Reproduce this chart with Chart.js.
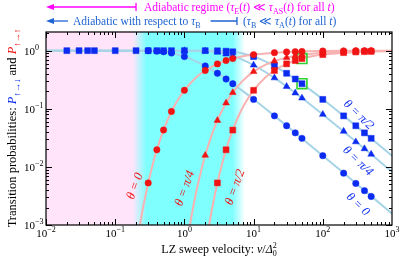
<!DOCTYPE html>
<html>
<head>
<meta charset="utf-8">
<script src="https://cdn.jsdelivr.net/npm/chart.js@4.4.1/dist/chart.umd.min.js"></script>
<style>
  html, body { margin: 0; padding: 0; background: #fff; }
</style>
</head>
<body>
<canvas id="c" width="407" height="266"></canvas>
<script>
// markers: v = sweep velocity, p = probability
const vBlueSq = [0.02, 0.03, 0.04, 0.05, 0.1, 0.2, 0.3, 0.4, 0.5, 0.65, 1, 2, 3, 4, 5, 10, 20, 30, 40, 50, 100, 200, 300, 400, 500];
const pBlueSq = [1, 1, 1, 1, 1, 1, 1, 1, 1, 1, 1, 1, 0.995, 0.98, 0.957, 0.79, 0.544, 0.408, 0.325, 0.27, 0.145, 0.0755, 0.051, 0.0385, 0.031];
const vBlueTri = [1, 2, 3, 4, 5, 10, 20, 30, 40, 50, 100, 200, 300, 400, 500];
const pBlueTri = [1, 0.984, 0.937, 0.874, 0.81, 0.564, 0.34, 0.242, 0.187, 0.153, 0.08, 0.041, 0.027, 0.0205, 0.0165];
const vBlueCirc = [0.3, 0.4, 0.5, 0.65, 1, 2, 3, 4, 5, 10, 20, 30, 40, 50, 100, 200, 300, 400, 500];
const pBlueCirc = [0.995, 0.98, 0.957, 0.91, 0.79, 0.544, 0.408, 0.325, 0.27, 0.145, 0.0755, 0.051, 0.0385, 0.031, 0.0156, 0.0078, 0.0052, 0.0039, 0.0031];
const vRedCirc = [0.3, 0.4, 0.5, 0.65, 1, 2, 3, 4, 5, 10, 20, 30, 40, 50, 100, 200, 300, 400, 500];
const pRedCirc = [0.0053, 0.0197, 0.043, 0.09, 0.208, 0.456, 0.592, 0.675, 0.73, 0.855, 0.924, 0.949, 0.962, 0.969, 0.984, 0.992, 0.995, 0.996, 0.997];
const vRedTri = [2, 3, 4, 5, 10, 20, 30, 40, 50, 100, 200, 300, 400, 500];
const pRedTri = [0.0158, 0.063, 0.126, 0.19, 0.436, 0.66, 0.758, 0.813, 0.847, 0.92, 0.959, 0.973, 0.979, 0.984];
const vRedSq = [3, 4, 5, 10, 20, 30, 40, 50, 100, 200, 300, 400, 500];
const pRedSq = [0.0053, 0.0197, 0.043, 0.208, 0.456, 0.592, 0.675, 0.73, 0.855, 0.924, 0.949, 0.962, 0.969];
const vGreen = [50, 50];
const pGreen = [0.73, 0.27];

// theory curves
const vCurveR0 = [0.22, 0.25, 0.3, 0.35, 0.4, 0.5, 0.6, 0.7, 0.85, 1, 1.5, 2, 3, 5, 7, 10, 20, 50, 100, 200, 500, 1000];
const pCurveR0 = [0.00079, 0.00187, 0.0053, 0.01125, 0.0197, 0.0432, 0.0729, 0.106, 0.1576, 0.208, 0.351, 0.456, 0.592, 0.73, 0.799, 0.855, 0.924, 0.969, 0.984, 0.992, 0.9969, 0.9984];
const vCurveR1 = [1.1, 1.2, 1.35, 1.5, 1.75, 2, 2.5, 3, 4, 5, 7, 10, 15, 20, 30, 50, 70, 100, 200, 500, 1000];
const pCurveR1 = [0.00053, 0.00099, 0.00214, 0.00395, 0.0087, 0.0158, 0.0362, 0.0629, 0.1256, 0.19, 0.3055, 0.436, 0.575, 0.66, 0.758, 0.847, 0.888, 0.92, 0.959, 0.9835, 0.9917];
const vCurveR2 = [2.2, 2.5, 3, 3.5, 4, 5, 6, 7, 8.5, 10, 15, 20, 30, 50, 70, 100, 200, 500, 1000];
const pCurveR2 = [0.00079, 0.00187, 0.0053, 0.01125, 0.0197, 0.0432, 0.0729, 0.106, 0.1576, 0.208, 0.351, 0.456, 0.592, 0.73, 0.799, 0.855, 0.924, 0.969, 0.9844];
const vCurveB0 = [0.01, 0.1, 0.2, 0.3, 0.4, 0.5, 0.7, 1, 1.5, 2, 3, 5, 7, 10, 20, 50, 100, 200, 500, 1000];
const pCurveB0 = [1, 1, 0.9996, 0.9947, 0.9803, 0.9568, 0.894, 0.792, 0.649, 0.544, 0.408, 0.27, 0.201, 0.1454, 0.0755, 0.0309, 0.01559, 0.00782, 0.00314, 0.00157];
const vCurveB1 = [0.01, 1, 1.5, 2, 3, 5, 7, 10, 15, 20, 30, 50, 100, 200, 500, 1000];
const pCurveB1 = [1, 0.99975, 0.996, 0.9842, 0.937, 0.81, 0.6945, 0.564, 0.425, 0.34, 0.242, 0.153, 0.0797, 0.0406, 0.01646, 0.00826];
const vCurveB2 = [0.01, 2, 3, 4, 5, 7, 10, 15, 20, 30, 50, 70, 100, 200, 500, 1000];
const pCurveB2 = [1, 0.9996, 0.9947, 0.9803, 0.9568, 0.894, 0.792, 0.649, 0.544, 0.408, 0.27, 0.201, 0.1454, 0.0755, 0.0309, 0.01559];

const xTickExp = [-2, -1, 0, 1, 2, 3];
const yTickExp = [-3, -2, -1, 0];
const bandEdges = [0.18, 0.28, 5, 7.5]; // pink -> cyan -> white

const F = '"Liberation Serif", "DejaVu Serif", serif';
const RED = '#f01414', BLUE = '#0b2bf0', MAG = '#ff00ff', ABLUE = '#1e64d2';
const PINK = '#ffe4fa', CYAN = '#80ffff';

const pts = (xs, ys) => xs.map((x, i) => ({ x: x, y: ys[i] }));

function marker(xs, ys, style, color, r) {
  return {
    data: pts(xs, ys), showLine: false, pointStyle: style, pointRadius: r,
    pointBackgroundColor: color, pointBorderColor: color, pointBorderWidth: 0.5
  };
}
function curve(xs, ys, color) {
  return {
    data: pts(xs, ys), showLine: true, pointRadius: 0, borderColor: color,
    borderWidth: 2, cubicInterpolationMode: 'monotone'
  };
}

// text with italic / sub / sup parts: [text, color, kind, noAdvance]
function rich(ctx, parts, size, x, y, align) {
  const fontOf = (k) => {
    const small = k === 'sub' || k === 'sup';
    return (k === 'i' ? 'italic ' : '') + (small ? Math.round(size * 0.7) : size) + 'px ' + F;
  };
  let w = 0;
  for (const p of parts) {
    if (p[3]) continue;
    ctx.font = fontOf(p[2]);
    w += ctx.measureText(p[0]).width;
  }
  let cx = align === 'center' ? x - w / 2 : x;
  ctx.textAlign = 'left';
  ctx.textBaseline = 'alphabetic';
  for (const p of parts) {
    ctx.font = fontOf(p[2]);
    ctx.fillStyle = p[1];
    const dy = p[2] === 'sub' ? size * 0.28 : p[2] === 'sup' ? -size * 0.42 : 0;
    ctx.fillText(p[0], cx, y + dy);
    if (!p[3]) cx += ctx.measureText(p[0]).width;
  }
  return w;
}

function arrowLeft(ctx, x1, x2, y, color, bar) {
  ctx.strokeStyle = color;
  ctx.fillStyle = color;
  ctx.lineWidth = 1.3;
  ctx.beginPath();
  ctx.moveTo(x1 + 4, y);
  ctx.lineTo(x2, y);
  ctx.stroke();
  ctx.beginPath();
  ctx.moveTo(x1, y);
  ctx.lineTo(x1 + 8, y - 3);
  ctx.lineTo(x1 + 8, y + 3);
  ctx.closePath();
  ctx.fill();
  if (bar) {
    ctx.beginPath();
    ctx.moveTo(x2, y - 4);
    ctx.lineTo(x2, y + 4);
    ctx.stroke();
  }
}

const decor = {
  id: 'decor',
  beforeDatasetsDraw(chart) {
    const ctx = chart.ctx, a = chart.chartArea, xs = chart.scales.x;
    const f = (v) => Math.min(1, Math.max(0, (xs.getPixelForValue(v) - a.left) / (a.right - a.left)));
    const g = ctx.createLinearGradient(a.left, 0, a.right, 0);
    g.addColorStop(0, PINK);
    g.addColorStop(f(bandEdges[0]), PINK);
    g.addColorStop(f(bandEdges[1]), CYAN);
    g.addColorStop(f(bandEdges[2]), CYAN);
    g.addColorStop(f(bandEdges[3]), '#ffffff');
    g.addColorStop(1, '#ffffff');
    ctx.save();
    ctx.fillStyle = g;
    ctx.fillRect(a.left, a.top, a.right - a.left, a.bottom - a.top);
    ctx.restore();
  },
  afterDraw(chart) {
    const ctx = chart.ctx, a = chart.chartArea, xs = chart.scales.x, ys = chart.scales.y;
    ctx.save();
    // frame
    ctx.strokeStyle = '#000';
    ctx.lineWidth = 1.2;
    ctx.strokeRect(a.left, a.top, a.right - a.left, a.bottom - a.top);
    // ticks, inward on all four sides
    ctx.lineWidth = 1;
    ctx.beginPath();
    for (let d = -2; d < 3; d++) {
      for (let k = 1; k < 10; k++) {
        const px = Math.round(xs.getPixelForValue(k * Math.pow(10, d))) + 0.5;
        const len = k === 1 ? 6 : 3;
        ctx.moveTo(px, a.bottom); ctx.lineTo(px, a.bottom - len);
        ctx.moveTo(px, a.top); ctx.lineTo(px, a.top + len);
      }
    }
    for (let d = -3; d < 1; d++) {
      for (let k = 1; k < 10; k++) {
        const v = k * Math.pow(10, d);
        if (v > ys.max) break;
        const py = Math.round(ys.getPixelForValue(v)) + 0.5;
        const len = k === 1 ? 6 : 3;
        ctx.moveTo(a.left, py); ctx.lineTo(a.left + len, py);
        ctx.moveTo(a.right, py); ctx.lineTo(a.right - len, py);
      }
    }
    ctx.stroke();
    const sup = (e) => (e < 0 ? '\u2212' + (-e) : '' + e);
    for (const e of xTickExp) {
      rich(ctx, [['10', '#000', ''], [sup(e), '#000', 'sup']], 11, xs.getPixelForValue(Math.pow(10, e)), 237, 'center');
    }
    for (const e of yTickExp) {
      rich(ctx, [['10', '#000', ''], [sup(e), '#000', 'sup']], 11, 24, ys.getPixelForValue(Math.pow(10, e)) + 4, 'left');
    }
    // axis titles
    rich(ctx, [['LZ sweep velocity: ', '#000', ''], ['v', '#000', 'i'], ['/', '#000', ''], ['\u0394', '#000', 'i'],
      ['0', '#000', 'sub', true], ['2', '#000', 'sup']], 12, 219, 253, 'center');
    ctx.save();
    ctx.translate(16, 128);
    ctx.rotate(-Math.PI / 2);
    rich(ctx, [['Transition probabilities: ', '#000', ''], ['P', BLUE, 'i'], ['\u2191\u2192\u2193', BLUE, 'sub'],
      [' and ', '#000', ''], ['P', RED, 'i'], ['\u2191\u2192\u2191', RED, 'sub']], 12.5, 0, 0, 'center');
    ctx.restore();

    // theta labels
    const lab = (v, p, ang, color, val) => {
      ctx.save();
      ctx.translate(xs.getPixelForValue(v), ys.getPixelForValue(p));
      ctx.rotate(ang * Math.PI / 180);
      rich(ctx, [['\u03b8 = ' + val, color, 'i']], 12.5, 0, 4, 'center');
      ctx.restore();
    };
    lab(0.19, 0.0047, -70, RED, '0');
    lab(1.0, 0.0043, -70, RED, '\u03c0/4');
    lab(5.3, 0.0045, -70, RED, '\u03c0/2');
    lab(335, 0.08, 44, BLUE, '\u03c0/2');
    lab(325, 0.0128, 44, BLUE, '\u03c0/4');
    lab(325, 0.0023, 44, BLUE, '0');

    // regime annotations above the frame
    const x02 = xs.getPixelForValue(0.2);
    arrowLeft(ctx, a.left, x02, 7, MAG, true);
    rich(ctx, [['Adiabatic regime (', MAG, ''], ['\u03c4', MAG, 'i'], ['E', MAG, 'sub'], ['(', MAG, ''], ['t', MAG, 'i'],
      [') \u226a ', MAG, ''], ['\u03c4', MAG, 'i'], ['AS', MAG, 'sub'], ['(', MAG, ''], ['t', MAG, 'i'],
      [') for all ', MAG, ''], ['t', MAG, 'i'], [')', MAG, '']], 11.5, x02 + 8, 11, 'left');
    arrowLeft(ctx, a.left, a.left + 22, 21, ABLUE, false);
    const w = rich(ctx, [['Adiabatic with respect to ', ABLUE, ''], ['\u03c4', ABLUE, 'i'], ['B', ABLUE, 'sub']], 11.5, a.left + 27, 25, 'left');
    const xb = xs.getPixelForValue(5.75);
    ctx.strokeStyle = ABLUE;
    ctx.lineWidth = 1.3;
    ctx.beginPath();
    ctx.moveTo(a.left + 27 + w + 10, 21); ctx.lineTo(xb, 21);
    ctx.moveTo(xb, 17); ctx.lineTo(xb, 25);
    ctx.stroke();
    rich(ctx, [['(', ABLUE, ''], ['\u03c4', ABLUE, 'i'], ['B', ABLUE, 'sub'], [' \u226a ', ABLUE, ''], ['\u03c4', ABLUE, 'i'],
      ['A', ABLUE, 'sub'], ['(', ABLUE, ''], ['t', ABLUE, 'i'], [') for all ', ABLUE, ''], ['t', ABLUE, 'i'], [')', ABLUE, '']],
      11.5, xb + 6, 25, 'left');
    ctx.restore();
  }
};

new Chart(document.getElementById('c'), {
  type: 'scatter',
  data: {
    datasets: [
      marker(vRedCirc, pRedCirc, 'circle', RED, 3.2),
      marker(vRedTri, pRedTri, 'triangle', RED, 3.9),
      marker(vRedSq, pRedSq, 'rect', RED, 4.2),
      marker(vBlueSq, pBlueSq, 'rect', BLUE, 4.2),
      marker(vBlueTri, pBlueTri, 'triangle', BLUE, 3.9),
      marker(vBlueCirc, pBlueCirc, 'circle', BLUE, 3.2),
      {
        data: pts(vGreen, pGreen), showLine: false, pointStyle: 'rect', pointRadius: 7,
        pointBackgroundColor: 'rgba(0,0,0,0)', pointBorderColor: '#2fd02f', pointBorderWidth: 1.6
      },
      curve(vCurveR0, pCurveR0, '#f8b2b2'),
      curve(vCurveR1, pCurveR1, '#f8b2b2'),
      curve(vCurveR2, pCurveR2, '#f8b2b2'),
      curve(vCurveB0, pCurveB0, '#a6d4e6'),
      curve(vCurveB1, pCurveB1, '#a6d4e6'),
      curve(vCurveB2, pCurveB2, '#a6d4e6')
    ]
  },
  options: {
    responsive: false,
    devicePixelRatio: 1,
    animation: false,
    layout: { padding: { left: 46, right: 15, top: 32, bottom: 41 } },
    plugins: { legend: { display: false }, tooltip: { enabled: false } },
    scales: {
      x: { type: 'logarithmic', min: 0.01, max: 1000, display: false },
      y: { type: 'logarithmic', min: 0.001, max: 2.094, display: false }
    }
  },
  plugins: [decor]
});
</script>
</body>
</html>
